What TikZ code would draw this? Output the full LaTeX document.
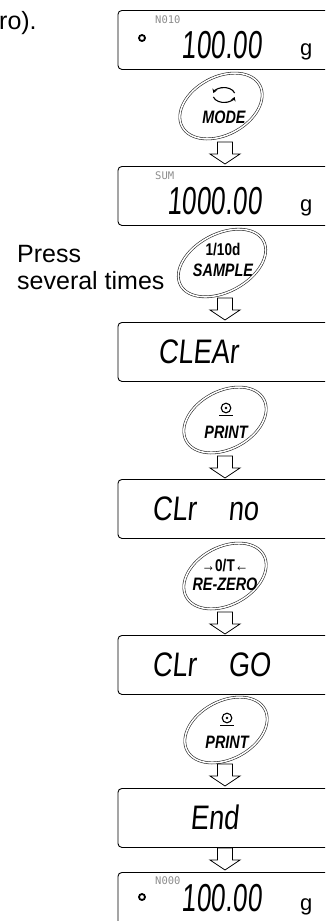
\documentclass[tikz,border=0pt]{standalone}
\usepackage{fontspec}
\usepackage{graphicx}
\setmainfont{Liberation Sans}
\newfontfamily\segfont{Liberation Sans}[FakeSlant=0.12]
\newfontfamily\lcdfont{DejaVu Sans Mono}
\usetikzlibrary{shapes.geometric,arrows.meta,calc}
\newcommand\segdigits[1]{{\segfont\fontsize{39}{39}\selectfont\scalebox{0.67}[1]{#1}}}
\newcommand\segletters[1]{{\segfont\fontsize{34}{34}\selectfont\scalebox{0.8}[1]{#1}}}
\newcommand\narrow[1]{\scalebox{0.8}[1]{#1}}
\tikzset{
 lcd/.style={draw=black, line width=0.9pt, rounded corners=4pt, minimum width=215pt, minimum height=59pt, anchor=north west, inner sep=0pt},
 btn/.style={ellipse, draw=black!85, double=white, double distance=1.5pt, line width=0.6pt, minimum width=88pt, minimum height=58pt, rotate=28, inner sep=0pt},
 btntext/.style={font=\fontsize{18}{18}\selectfont\bfseries\itshape, inner sep=0pt},
 btnup/.style={font=\fontsize{17}{17}\selectfont\bfseries, inner sep=0pt},
 hollow/.style={draw=black, line width=0.8pt, fill=white, line join=miter},
 smalllcd/.style={font=\lcdfont\fontsize{10.5}{10.5}\selectfont, text=black!45, inner sep=0pt, anchor=base west},
 body/.style={font=\fontsize{25}{27}\selectfont, inner sep=0pt, align=left},
 unit/.style={font=\fontsize{22}{22}\selectfont, inner sep=0pt, anchor=base west},
 segd/.style={inner sep=0pt, anchor=base east},
 segl/.style={inner sep=0pt, anchor=base west},
 lampdot/.style={draw=black, line width=1.8pt, circle, minimum size=6pt, inner sep=0pt},
 symline/.style={line width=1.1pt, draw=black},
}
\newcommand\blockarrow[1]{\draw[hollow] (#1) ++(-7.5,0) -- ++(0,12) -- ++(-7.5,0) -- ++(15,10) -- ++(15,-10) -- ++(-7.5,0) -- ++(0,-12) -- cycle;}
\newcommand\printsym[1]{%
  \draw[symline] (#1) circle[radius=4.8pt];
  \fill (#1) circle[radius=1.3pt];
  \draw[line width=1.5pt] ($(#1)+(-7,7.5)$) -- ($(#1)+(7,7.5)$);}
\begin{document}
\begin{tikzpicture}[x=1pt,y=-1pt]
\useasboundingbox (0,0) rectangle (325,921);
\clip (0,0) rectangle (325,921);
% left texts
\node[body, anchor=base west] (t0) at (-1,29) {ro).};
\node[body, anchor=north west] (t1) at (17,245) {Press\\several times};
% display 1
\node[lcd] (d1) at (117.5,10) {};
\node[lampdot] (c1) at (142,38) {};
\node[smalllcd] (n1) at (155,23) {N010};
\node[segd] (v1) at (262,58) {\segdigits{100.00}};
\node[unit] (g1) at (300,55) {g};
% MODE
\node[btn] (b1) at (221,106) {};
\draw[symline, -{Stealth[length=4pt,width=5pt]}] (224,95) ++(-15:11 and 7.5) arc[start angle=-15, end angle=-165, x radius=11, y radius=7.5];
\draw[symline, -{Stealth[length=4pt,width=5pt]}] (224,95) ++(-195:11 and 7.5) arc[start angle=-195, end angle=-345, x radius=11, y radius=7.5];
\node[btntext] (m1) at (224,117) {\narrow{MODE}};
\coordinate (a1) at (225,142);
\blockarrow{a1}
% display 2
\node[lcd] (d2) at (117.5,166) {};
\node[smalllcd] (n2) at (155,179) {SUM};
\node[segd] (v2) at (262,214) {\segdigits{1000.00}};
\node[unit] (g2) at (300,211) {g};
% SAMPLE
\node[btn, minimum width=94pt] (b2) at (222,263) {};
\node[btnup] (s1) at (223,250) {\narrow{1/10d}};
\node[btntext] (s2) at (223,270) {\narrow{SAMPLE}};
\coordinate (a2) at (225,298);
\blockarrow{a2}
% display 3
\node[lcd] (d3) at (117.5,322) {};
\node[segl] (v3) at (158,363) {\segletters{CLEAr}};
% PRINT 1
\node[btn] (b3) at (225,420) {};
\coordinate (p1) at (226,408);
\printsym{p1}
\node[btntext] (r1) at (226,432) {\narrow{PRINT}};
\coordinate (a3) at (225,456);
\blockarrow{a3}
% display 4
\node[lcd] (d4) at (117.5,479) {};
\node[segl] (v4) at (152,520) {\segletters{CLr\hspace{0.9em} no}};
% RE-ZERO
\node[btn] (b4) at (225,576) {};
\node[btnup] (z1) at (225,566) {\narrow{→0/T←}};
\node[btntext] (z2) at (225,584) {\narrow{RE-ZERO}};
\coordinate (a4) at (225,612);
\blockarrow{a4}
% display 5
\node[lcd] (d5) at (117.5,635) {};
\node[segl] (v5) at (152,676) {\segletters{CLr\hspace{0.9em} GO}};
% PRINT 2
\node[btn] (b5) at (226,730) {};
\coordinate (p2) at (227,718);
\printsym{p2}
\node[btntext] (r2) at (227,742) {\narrow{PRINT}};
\coordinate (a5) at (225,764);
\blockarrow{a5}
% display 6
\node[lcd] (d6) at (117.5,788) {};
\node[segl] (v6) at (190,829) {\segletters{End}};
\coordinate (a6) at (225,848);
\blockarrow{a6}
% display 7
\node[lcd] (d7) at (117.5,872) {};
\node[lampdot] (c7) at (142,897) {};
\node[smalllcd] (n7) at (155,884) {N000};
\node[segd] (v7) at (262,911) {\segdigits{100.00}};
\node[unit] (g7) at (300,910) {g};
\end{tikzpicture}
\end{document}
